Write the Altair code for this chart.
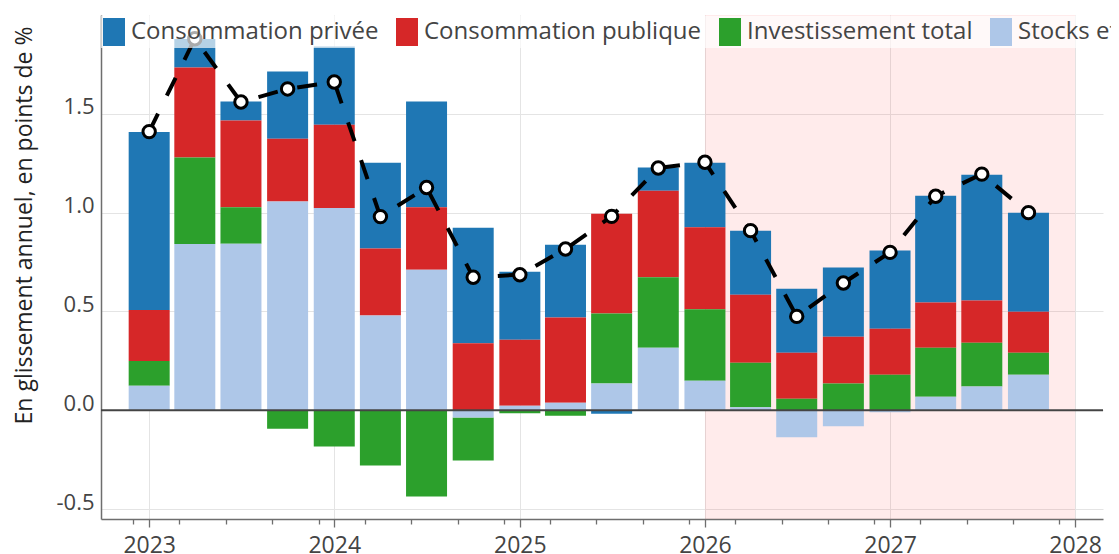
import altair as alt
import pandas as pd

# ---------------- data ----------------
quarters = ["2023-01-01", "2023-04-01", "2023-07-01", "2023-10-01",
            "2024-01-01", "2024-04-01", "2024-07-01", "2024-10-01",
            "2025-01-01", "2025-04-01", "2025-07-01", "2025-10-01",
            "2026-01-01", "2026-04-01", "2026-07-01", "2026-10-01",
            "2027-01-01", "2027-04-01", "2027-07-01", "2027-10-01"]

series_names = ["Consommation privée", "Consommation publique",
                "Investissement total", "Stocks et variations de stocks"]
series_colors = ["#1f77b4", "#d62728", "#2ca02c", "#aec7e8"]
stack_rank = [3, 2, 1, 0]  # stocks nearest zero, private consumption outermost

conso_privee = [0.900, 0.145, 0.096, 0.340, 0.395, 0.435, 0.535, 0.584, 0.344, 0.368,
                -0.017, 0.117, 0.327, 0.324, 0.324, 0.350, 0.395, 0.541, 0.637, 0.501]
conso_publique = [0.258, 0.455, 0.439, 0.318, 0.421, 0.339, 0.316, 0.339, 0.334, 0.432,
                  0.505, 0.438, 0.415, 0.344, 0.232, 0.236, 0.233, 0.228, 0.213, 0.208]
investissement = [0.126, 0.437, 0.184, -0.093, -0.183, -0.279, -0.436, -0.218, -0.015, -0.027,
                  0.355, 0.356, 0.361, 0.226, 0.059, 0.136, 0.180, 0.248, 0.222, 0.111]
stocks = [0.124, 0.842, 0.843, 1.056, 1.024, 0.479, 0.711, -0.036, 0.023, 0.038,
          0.135, 0.317, 0.150, 0.015, -0.137, -0.081, -0.010, 0.069, 0.120, 0.180]
total = [1.410, 1.880, 1.560, 1.626, 1.661, 0.980, 1.127, 0.673, 0.686, 0.816,
         0.981, 1.226, 1.255, 0.909, 0.475, 0.644, 0.799, 1.083, 1.195, 1.000]

shade_start = ["2026-01-01"]
shade_end = ["2028-01-01"]

tick_years = [2023, 2024, 2025, 2026, 2027, 2028]
minor_months = [3, 6, 9, 12]
y_ticks = [-0.5, 0.0, 0.5, 1.0, 1.5]

# ---------------- tables ----------------
rows = []
for name, rank, vals in zip(series_names, stack_rank,
                            [conso_privee, conso_publique, investissement, stocks]):
    for q, v in zip(quarters, vals):
        rows.append({"date": q, "series": name, "value": v, "rank": rank})
bars_df = pd.DataFrame(rows)
line_df = pd.DataFrame({"date": quarters, "total": total})
shade_df = pd.DataFrame({"start": shade_start, "end": shade_end})
zero_df = pd.DataFrame({"y": [0.0]})

FONT = "Open Sans"

tick_values = [alt.DateTime(year=2022, month=12, date=1, utc=True)]
for yr in tick_years:
    tick_values.append(alt.DateTime(year=yr, month=1, date=1, utc=True))
    if yr < tick_years[-1]:
        for m in minor_months:
            tick_values.append(alt.DateTime(year=yr, month=m, date=1, utc=True))

is_year = "utcmonth(datum.value) == 0"

x_scale = alt.Scale(type="utc",
                    domain=[alt.DateTime(year=2022, month=9, date=28, utc=True),
                            alt.DateTime(year=2028, month=2, date=25, utc=True)],
                    nice=False, padding=0)
x_axis = alt.Axis(values=tick_values, title=None,
                  labelExpr=f"{is_year} ? utcFormat(datum.value, '%Y') : ''",
                  labelFont=FONT, labelFontSize=23, labelColor="#444",
                  labelPadding=7, labelOverlap=False, labelFlush=False,
                  tickSize={"condition": {"test": is_year, "value": 8}, "value": 5},
                  tickColor="#6e6e6e", tickWidth=1.3,
                  grid=True, gridColor="#e4e4e4", gridWidth=1,
                  gridOpacity={"condition": {"test": is_year, "value": 1}, "value": 0},
                  domainColor="#6e6e6e", domainWidth=1.5)

y_scale = alt.Scale(domain=[-0.55, 2.0], nice=False, zero=False, padding=0)
y_axis = alt.Axis(values=y_ticks,
                  labelExpr="datum.value < 0 ? '-' + format(-datum.value, '.1f') : format(datum.value, '.1f')",
                  labelFont=FONT, labelFontSize=22, labelColor="#444",
                  labelPadding=7, labelBaseline="alphabetic",
                  ticks=False, grid=True, gridColor="#e4e4e4", gridWidth=1,
                  domainColor="#6e6e6e", domainWidth=1.5,
                  title="En glissement annuel, en points de %",
                  titleFont=FONT, titleFontSize=23, titleFontWeight="normal",
                  titleColor="#222", titleAngle=270, titleAlign="center",
                  titleBaseline="alphabetic", titleX=-70, titleY=210)


def X(field):
    return alt.X(f"{field}:T", scale=x_scale, axis=x_axis)


def Y(field, **kw):
    return alt.Y(f"{field}:Q", scale=y_scale, axis=y_axis, **kw)


legend = alt.Legend(title=None, orient="none", legendX=0, legendY=1,
                    direction="horizontal", fillColor="rgba(255,255,255,0.67)",
                    padding=2, columnPadding=17,
                    symbolType="M-1,-1H0.5714V1H-1Z", symbolSize=784,
                    symbolStrokeWidth=0, symbolOpacity=1,
                    labelFont=FONT, labelFontSize=24, labelColor="#444",
                    labelOffset=0, labelLimit=500)

shade = alt.Chart(shade_df).mark_rect(color="#ff0000", opacity=0.08).encode(
    x=X("start"), x2="end"
)

bars = alt.Chart(bars_df).mark_bar(width=41).encode(
    x=X("date"),
    y=Y("value", stack="zero"),
    color=alt.Color("series:N",
                    scale=alt.Scale(domain=series_names, range=series_colors),
                    legend=legend),
    order=alt.Order("rank:Q", sort="ascending"),
)

zero = alt.Chart(zero_df).mark_rule(color="#444", strokeWidth=2).encode(y=Y("y"))

line = alt.Chart(line_df).mark_line(color="black", strokeWidth=4,
                                    strokeDash=[20, 20]).encode(
    x=X("date"), y=Y("total")
)

points = alt.Chart(line_df).mark_point(shape="circle", filled=True, fill="white",
                                       stroke="black", strokeWidth=3, size=154,
                                       opacity=1).encode(
    x=X("date"), y=Y("total")
)

chart = alt.layer(shade, bars, zero, line, points).properties(
    width=1002, height=504,
    autosize=alt.AutoSizeParams(type="none"),
    padding={"left": 93, "top": 7, "right": 8, "bottom": 35},
).configure_view(stroke=None)

chart.save("out.html", embed_options={"renderer": "svg", "actions": False})
